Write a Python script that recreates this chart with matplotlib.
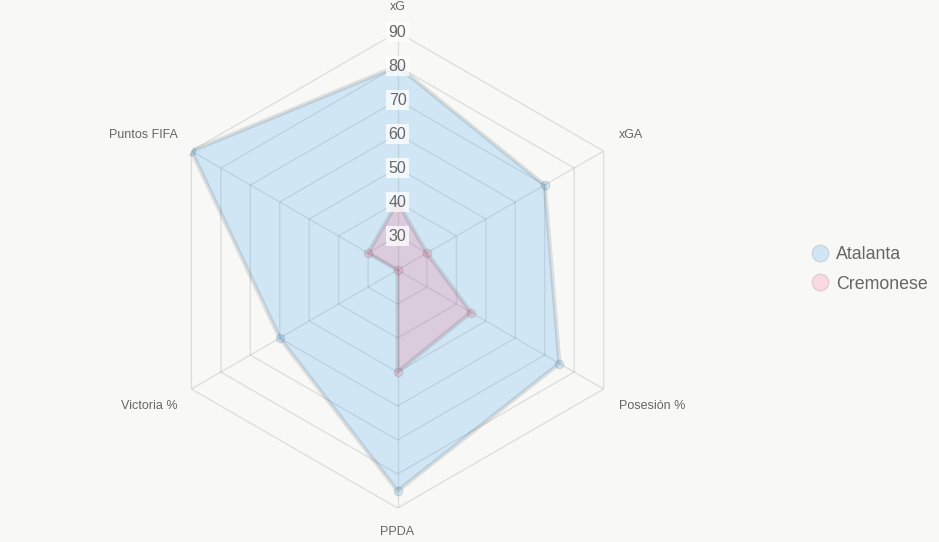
import numpy as np
import matplotlib
matplotlib.use("Agg")
import matplotlib.pyplot as plt
from matplotlib.lines import Line2D

# data
categories = ["xG", "xGA", "Posesión %", "PPDA", "Victoria %", "Puntos FIFA"]
atalanta = [80, 70, 75, 85, 60, 90]
cremonese = [40, 30, 45, 50, 20, 30]
ring_values = [20, 30, 40, 50, 60, 70, 80, 90]
tick_values = [30, 40, 50, 60, 70, 80, 90]
team_names = ["Atalanta", "Cremonese"]

plt.rcParams['font.family'] = ['Liberation Sans', 'DejaVu Sans']
bg = "#f8f8f7"
txt = "#666666"
grid_c = (0, 0, 0, 0.1)

fig = plt.figure(figsize=(9.39, 5.42), dpi=100)
fig.set_facecolor(bg)
ax = fig.add_axes([0.1699, 0.0627, 0.5069, 0.8782], projection='polar')
ax.set_facecolor(bg)
ax.patch.set_alpha(0)
ax.set_theta_offset(np.pi / 2)
ax.set_theta_direction(-1)
ax.set_ylim(20, 90)
ax.grid(False)
ax.spines['polar'].set_visible(False)
ax.set_xticks([])
ax.set_yticks([])

n = len(categories)
angles = np.arange(n) * 2 * np.pi / n
closed = np.append(angles, angles[0])

# hexagon rings and spokes
for rv in ring_values[1:]:
    ax.plot(closed, [rv] * (n + 1), color=grid_c, lw=1, zorder=1)
for a in angles:
    ax.plot([a, a], [20, 90], color=grid_c, lw=1, zorder=1)

# series
series = [(atalanta, (54/255, 162/255, 235/255)), (cremonese, (255/255, 99/255, 132/255))]
for vals, c in series:
    v = np.append(vals, vals[0])
    ax.fill(closed, v, color=c + (0.2,), lw=0, zorder=2)
    ax.plot(closed, v, color=(0, 0, 0, 0.1), lw=3, zorder=3, solid_joinstyle='miter')
    ax.plot(angles, vals, 'o', ms=6, mfc=c + (0.2,), mec=(0, 0, 0, 0.1), mew=1, zorder=4)

# tick labels on the xG axis
for tv in tick_values:
    ax.text(0, tv, str(tv), ha='center', va='center', fontsize=11.5, color=txt, zorder=5,
            bbox=dict(boxstyle='square,pad=0.15', fc=(1, 1, 1, 0.75), ec='none'))

# axis labels
offsets = [(0, 18, 'center'), (11, 11.5, 'left'), (11, -12.5, 'left'),
           (0, -17, 'center'), (-10, -12.5, 'right'), (-10, 11.5, 'right')]
for a, lab, (dx, dy, ha) in zip(angles, categories, offsets):
    ax.annotate(lab, xy=(a, 90), xytext=(dx, dy), textcoords='offset points',
                ha=ha, va='center', fontsize=9, color=txt, annotation_clip=False)

# legend
handles = [Line2D([], [], ls='none', marker='o', ms=12, mfc=c + (0.2,), mec=(0, 0, 0, 0.1), mew=1)
           for _, c in series]
leg = fig.legend(handles, team_names, loc='center left', bbox_to_anchor=(0.8455, 0.503),
                 frameon=False, fontsize=12.75, labelcolor=txt, handletextpad=0.3,
                 labelspacing=0.7, handlelength=1.2)

fig.savefig("out.png", dpi=100, facecolor=bg)
